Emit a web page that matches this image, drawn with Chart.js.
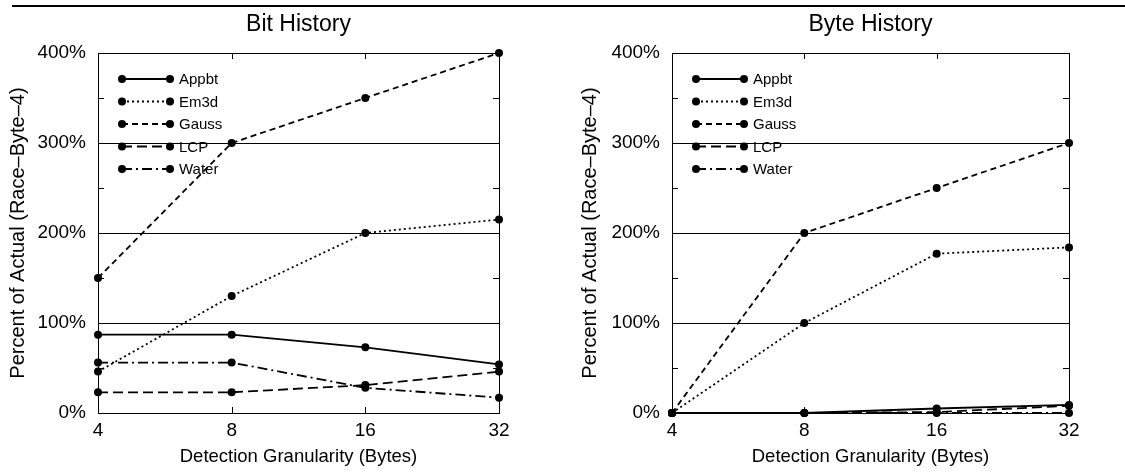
<!DOCTYPE html>
<html>
<head>
<meta charset="utf-8">
<script src="https://cdn.jsdelivr.net/npm/chart.js@4.4.1/dist/chart.umd.min.js"></script>
<style>
  body { margin: 0; background: #fff; }
  #wrap { position: relative; width: 1125px; height: 472px; overflow: hidden; }
  #rule { position: absolute; left: 12px; top: 5px; width: 1113px; height: 2px; background: #000; }
  #bitChart { position: absolute; left: 0; top: 0; }
  #byteChart { position: absolute; left: 560px; top: 0; }
</style>
</head>
<body>
<div id="wrap">
  <div id="rule"></div>
  <canvas id="bitChart" width="560" height="472"></canvas>
  <canvas id="byteChart" width="565" height="472"></canvas>
</div>
<script>
// data
const granularity = ['4', '8', '16', '32'];
const seriesNames = ['Appbt', 'Em3d', 'Gauss', 'LCP', 'Water'];
const yTicks = [0, 100, 200, 300, 400];

const bitAppbt = [87, 87, 73, 54];
const bitEm3d = [46, 130, 200, 215];
const bitGauss = [150, 300, 350, 400];
const bitLcp = [23, 23, 31, 46];
const bitWater = [56, 56, 28, 17];

const byteAppbt = [0, 0, 5, 9];
const byteEm3d = [0, 100, 177, 184];
const byteGauss = [0, 200, 250, 300];
const byteLcp = [0, 0, 1, 8];
const byteWater = [0, 0, 0, 0];

// line styles for each series (gnuplot look)
const dashes = [[], [2, 3], [6, 4], [10, 5], [10, 4, 2, 4]];
const FONT = "'Liberation Sans', Arial, Helvetica, sans-serif";

function makeDatasets(values) {
    return values.map((vals, i) => ({
        label: seriesNames[i],
        data: vals,
        borderColor: '#000',
        borderWidth: 1.8,
        borderDash: dashes[i],
        backgroundColor: '#000',
        pointRadius: 4,
        pointBorderWidth: 0,
        pointBackgroundColor: '#000',
        tension: 0,
        fill: false,
        clip: false
    }));
}

// frame, inward tick marks and the legend inside the plot
const framePlugin = {
    id: 'frameTicks',
    afterDatasetsDraw(chart) {
        const ctx = chart.ctx;
        const a = chart.chartArea;
        const x = chart.scales.x;
        const y = chart.scales.y;
        ctx.save();
        ctx.strokeStyle = '#000';
        ctx.lineWidth = 1;
        ctx.setLineDash([]);
        ctx.strokeRect(Math.round(a.left) + 0.5, Math.round(a.top) + 0.5,
            Math.round(a.right - a.left), Math.round(a.bottom - a.top));
        // minor y ticks every 50%
        for (let v = 50; v < 400; v += 100) {
            const py = Math.round(y.getPixelForValue(v)) + 0.5;
            ctx.beginPath();
            ctx.moveTo(a.left, py); ctx.lineTo(a.left + 6, py);
            ctx.moveTo(a.right, py); ctx.lineTo(a.right - 6, py);
            ctx.stroke();
        }
        // x ticks on top and bottom
        for (let i = 1; i < granularity.length - 1; i++) {
            const px = Math.round(x.getPixelForValue(i)) + 0.5;
            ctx.beginPath();
            ctx.moveTo(px, a.top); ctx.lineTo(px, a.top + 6);
            ctx.moveTo(px, a.bottom); ctx.lineTo(px, a.bottom - 6);
            ctx.stroke();
        }

        // legend
        ctx.font = '15px ' + FONT;
        ctx.textBaseline = 'middle';
        ctx.textAlign = 'left';
        ctx.fillStyle = '#000';
        chart.data.datasets.forEach((ds, i) => {
            const ly = a.top + 26 + i * 22.5;
            const x0 = a.left + 24, x1 = a.left + 72;
            ctx.lineWidth = 1.8;
            ctx.setLineDash(ds.borderDash);
            ctx.beginPath();
            ctx.moveTo(x0, ly); ctx.lineTo(x1, ly);
            ctx.stroke();
            ctx.setLineDash([]);
            [x0, x1].forEach(px => {
                ctx.beginPath();
                ctx.arc(px, ly, 4, 0, Math.PI * 2);
                ctx.fill();
            });
            ctx.fillText(ds.label, a.left + 81, ly + 1);
        });
        ctx.restore();
    }
};

function buildChart(canvasId, title, values, yWidth, yTitlePad) {
    const ctx = document.getElementById(canvasId).getContext('2d');
    return new Chart(ctx, {
        type: 'line',
        data: {
            labels: granularity,
            datasets: makeDatasets(values)
        },
        options: {
            responsive: false,
            animation: false,
            devicePixelRatio: 1,
            layout: { padding: { top: 53, right: canvasId === 'bitChart' ? 61 : 56, bottom: 0, left: 0 } },
            plugins: {
                legend: { display: false },
                tooltip: { enabled: false },
                title: { display: false }
            },
            scales: {
                x: {
                    type: 'category',
                    offset: false,
                    grid: { display: false, drawTicks: false },
                    border: { display: false },
                    ticks: { color: '#000', font: { family: FONT, size: 19 }, padding: 6, maxRotation: 0, autoSkip: false },
                    title: {
                        display: true,
                        text: 'Detection Granularity (Bytes)',
                        color: '#000',
                        font: { family: FONT, size: 18.5 },
                        padding: { top: 0, bottom: 4 }
                    },
                    afterFit: (scale) => { scale.height = 59; }
                },
                y: {
                    min: 0,
                    max: 400,
                    afterBuildTicks: (scale) => { scale.ticks = yTicks.map(v => ({ value: v })); },
                    grid: {
                        color: '#000',
                        lineWidth: 1,
                        drawTicks: false
                    },
                    border: { display: false },
                    ticks: {
                        color: '#000',
                        font: { family: FONT, size: 19 },
                        padding: 12,
                        autoSkip: false,
                        callback: (v) => v + '%'
                    },
                    title: {
                        display: true,
                        text: 'Percent of Actual (Race\u2013Byte\u20134)',
                        color: '#000',
                        font: { family: FONT, size: 20 },
                        padding: { top: yTitlePad, bottom: 0 }
                    },
                    afterFit: (scale) => { scale.width = yWidth; }
                }
            }
        },
        plugins: [framePlugin, {
            id: 'plotTitle',
            afterDraw(chart) {
                const c = chart.ctx;
                const a = chart.chartArea;
                c.save();
                c.font = '23px ' + FONT;
                c.fillStyle = '#000';
                c.textAlign = 'center';
                c.textBaseline = 'middle';
                c.fillText(title, (a.left + a.right) / 2, 25);
                c.restore();
            }
        }]
    });
}

document.addEventListener('DOMContentLoaded', () => {
    buildChart('bitChart', 'Bit History', [bitAppbt, bitEm3d, bitGauss, bitLcp, bitWater], 98, 6);
    buildChart('byteChart', 'Byte History', [byteAppbt, byteEm3d, byteGauss, byteLcp, byteWater], 112, 18);
});
</script>
</body>
</html>
